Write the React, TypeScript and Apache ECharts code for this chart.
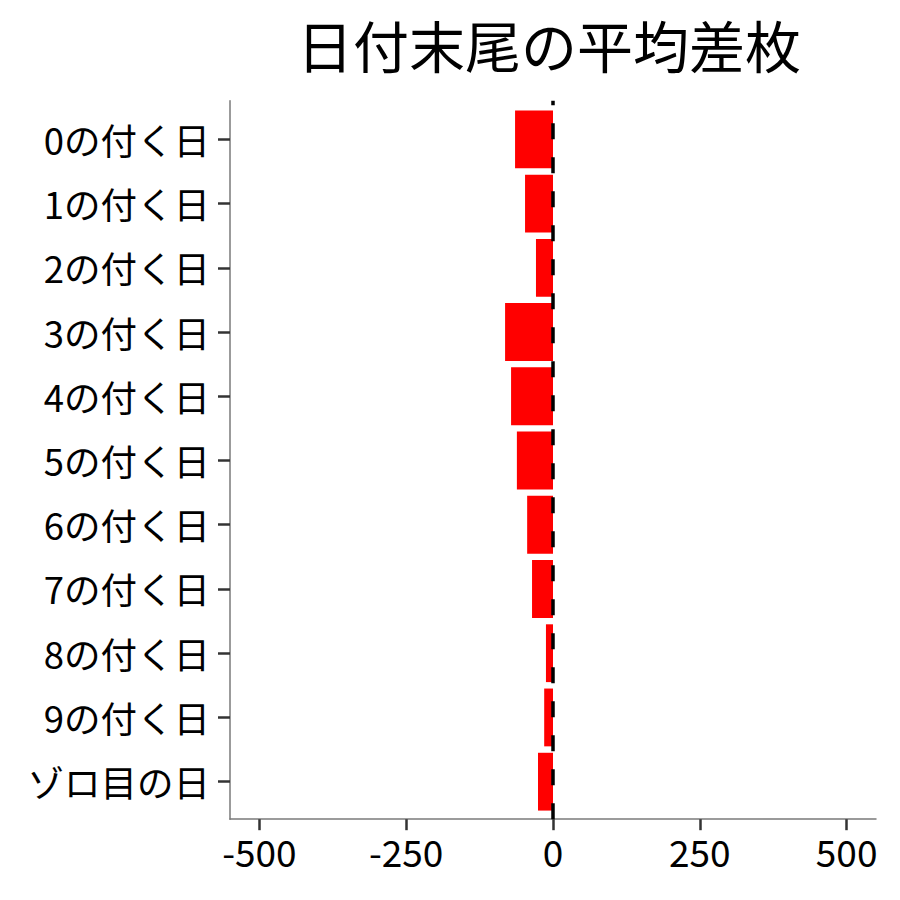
import React, { useEffect, useRef } from "react";
import * as echarts from "echarts";

const categories = [
  "0の付く日",
  "1の付く日",
  "2の付く日",
  "3の付く日",
  "4の付く日",
  "5の付く日",
  "6の付く日",
  "7の付く日",
  "8の付く日",
  "9の付く日",
  "ゾロ目の日",
];
const values = [-64.6, -47.6, -29, -81.6, -71.4, -61.5, -44, -35.7, -12, -15, -25.5];
const xTicks = [-500, -250, 0, 250, 500];
const xMin = -550;
const xMax = 550;
const titleText = "日付末尾の平均差枚";

export default function App() {
  const ref = useRef<HTMLDivElement>(null);
  useEffect(() => {
    if (!ref.current) return;
    const chart = echarts.init(ref.current, null, { renderer: "svg" });
    const font = "'Noto Sans CJK JP', 'Noto Sans', sans-serif";
    const axisGray = "#7a7a7a";
    const tickColor = "#333";
    chart.setOption({
      animation: false,
      backgroundColor: "#ffffff",
      title: {
        text: titleText,
        left: 544,
        textAlign: "center",
        top: 10,
        textStyle: { fontFamily: font, fontSize: 56, fontWeight: "normal", color: "#000" },
      },
      grid: [
        { left: 230, right: 24, top: 107.2, bottom: 86.2, containLabel: false },
        { left: 230, right: 24, top: 100.7, bottom: 80.8, containLabel: false },
      ],
      xAxis: [
        {
          gridIndex: 0,
          type: "value",
          min: xMin,
          max: xMax,
          show: false,
        },
        {
          gridIndex: 1,
          type: "value",
          min: xMin,
          max: xMax,
          splitLine: { show: false },
          axisLine: { show: true, onZero: false, lineStyle: { color: axisGray, width: 1.5 } },
          axisTick: {
            show: true,
            length: 11,
            customValues: xTicks,
            lineStyle: { color: tickColor, width: 2.5 },
          },
          axisLabel: {
            fontFamily: font,
            fontSize: 37,
            color: "#000",
            margin: 13,
            customValues: xTicks,
          },
        },
      ],
      yAxis: [
        {
          gridIndex: 0,
          type: "category",
          data: categories,
          inverse: true,
          axisLine: { show: false, onZero: false },
          axisTick: {
            show: true,
            alignWithLabel: true,
            length: 12,
            lineStyle: { color: tickColor, width: 2.5 },
          },
          axisLabel: { fontFamily: font, fontSize: 36.5, color: "#000", margin: 20 },
          splitLine: { show: false },
        },
        {
          gridIndex: 1,
          type: "value",
          min: 0,
          max: 1,
          axisLine: { show: true, onZero: false, lineStyle: { color: axisGray, width: 1.5 } },
          axisTick: { show: false },
          axisLabel: { show: false },
          splitLine: { show: false },
        },
      ],
      series: [
        {
          type: "bar",
          xAxisIndex: 0,
          yAxisIndex: 0,
          data: values,
          barCategoryGap: "10%",
          itemStyle: { color: "#ff0000" },
          z: 2,
        },
        {
          type: "line",
          xAxisIndex: 1,
          yAxisIndex: 1,
          data: [
            [0, 0],
            [0, 1],
          ],
          symbol: "none",
          silent: true,
          lineStyle: { color: "#000", type: [16, 18], width: 3.5 },
          z: 5,
        },
      ],
    });
    return () => chart.dispose();
  }, []);
  return (
    <div
      ref={ref}
      style={{ position: "fixed", left: 0, top: 0, width: 900, height: 900 }}
    />
  );
}
